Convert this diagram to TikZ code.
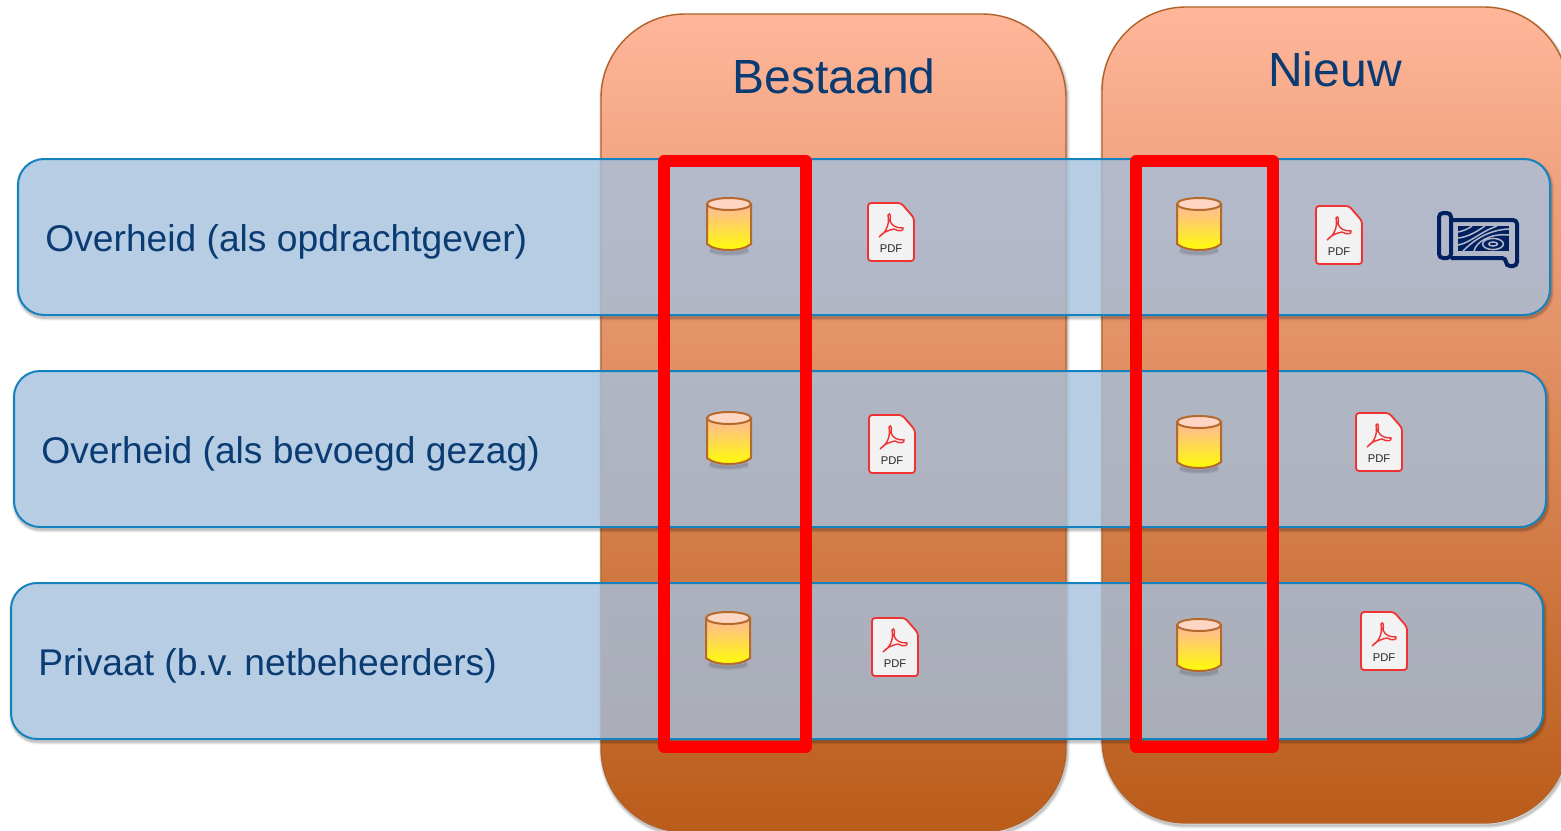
\documentclass[tikz,border=0pt]{standalone}
\usepackage{fontspec}
\setmainfont{Liberation Sans}
\usetikzlibrary{positioning,calc}
\definecolor{navytext}{RGB}{10,60,115}
\definecolor{bandline}{RGB}{20,130,190}
\definecolor{bandfill}{RGB}{165,192,221}
\definecolor{columntop}{RGB}{255,182,154}
\definecolor{columnbottom}{RGB}{186,92,26}
\definecolor{columnline}{RGB}{178,98,40}
\definecolor{cylline}{RGB}{180,105,45}
\definecolor{cyltop}{RGB}{255,214,196}
\definecolor{mapblue}{RGB}{0,32,96}
\definecolor{mapgrain}{RGB}{178,184,200}
\definecolor{pdfred}{RGB}{240,50,50}
\tikzset{
  eoclip/.code={\pgfseteorule},
  column/.style={draw=columnline,line width=.7pt,rounded corners=42pt,
    top color=columntop,bottom color=columnbottom},
  band/.style={draw=bandline,line width=1pt,rounded corners=13pt,
    fill=bandfill,fill opacity=.8},
  redbox/.style={draw=red,line width=5.7pt,line join=round},
  headtext/.style={text=navytext,font=\fontsize{24}{28}\selectfont,anchor=base},
  rowtext/.style={text=navytext,font=\fontsize{18.6}{22}\selectfont,anchor=base west,inner sep=0pt},
  grain/.style={mapgrain,line width=.75pt},
  cyl/.pic={
    \foreach \w/\o in {3.4/.04,2.4/.06,1.4/.08}
      \draw[black,opacity=\o,line width=\w pt] (-19,26) .. controls (-10,30) and (10,30) .. (19,26);
    \path[top color=columntop,bottom color=yellow,draw=cylline,line width=1pt]
      (-22,-20) -- (-22,20) .. controls (-13,28) and (13,28) .. (22,20) -- (22,-20) -- cycle;
    \draw[fill=cyltop,draw=cylline,line width=1pt] (0,-20) ellipse [x radius=11pt,y radius=3pt];
  },
  pdficon/.pic={
    \draw[fill=white!95!black,draw=pdfred,line width=.9pt,rounded corners=1.5pt]
      (-23,-29) -- (10,-29) -- (23,-14) -- (23,29) -- (-23,29) -- cycle;
    \draw[pdfred,line width=.7pt] (-12,5) .. controls (-6,1) and (-1,-6) .. (-3,-17)
      .. controls (-1,-20) and (0,-16) .. (-1,-11) .. controls (1,-6) and (5,-4) .. (12,-4)
      .. controls (13,-1) and (8,0) .. (3,-3) .. controls (-2,-2) and (-8,0) .. (-12,5) -- cycle;
    \node[text=black!85,font=\fontsize{5.6}{7}\selectfont] at (0,17) {PDF};
  },
}
% Soft edge outside a rounded box: radius, two corners
\newcommand{\softedge}[3]{
  \begin{scope}
  \clip[eoclip,rounded corners=#1] (-200,-200) rectangle (1800,1000) (#2) rectangle (#3);
  \foreach \w/\o in {3.2/.05,2.2/.08,1.2/.12}
    \draw[black,opacity=\o,line width=\w pt,rounded corners=#1] ($(#2)+(1,2.5)$) rectangle ($(#3)+(1,2.5)$);
  \end{scope}
}
\begin{document}
\frenchspacing
\begin{tikzpicture}[x=.5pt,y=-.5pt]
\useasboundingbox (0,0) rectangle (1561,830);
\clip (0,0) rectangle (1561,830);

% Columns
\softedge{42pt}{601,14}{1066,832}
\softedge{42pt}{1102,7}{1568,823}
\path[column] (601,14) rectangle (1066,832);
\path[column] (1102,7) rectangle (1568,823);
\node[headtext] (bestaand) at (834,93) {Bestaand};
\node[headtext] (nieuw) at (1335,86) {Nieuw};

% Rows
\softedge{13pt}{18,159}{1550,315}
\softedge{13pt}{14,371}{1546,527}
\softedge{13pt}{11,583}{1543,739}
\path[band] (18,159) rectangle (1550,315);
\path[band] (14,371) rectangle (1546,527);
\path[band] (11,583) rectangle (1543,739);
\node[rowtext] (opdrachtgever) at (45,251) {Overheid (als opdrachtgever)};
\node[rowtext] (bevoegd) at (41,463) {Overheid (als bevoegd gezag)};
\node[rowtext] (privaat) at (38,675) {Privaat (b.v. netbeheerders)};

% Databases
\pic at (729,224) {cyl};
\pic at (729,438) {cyl};
\pic at (728,638) {cyl};
\pic at (1199,224) {cyl};
\pic at (1199,442) {cyl};
\pic at (1199,645) {cyl};

% PDF files
\pic at (891,232) {pdficon};
\pic at (892,444) {pdficon};
\pic at (895,647) {pdficon};
\pic at (1339,235) {pdficon};
\pic at (1379,442) {pdficon};
\pic at (1384,641) {pdficon};

% Red frames
\path[redbox] (664,161) rectangle (806,747);
\path[redbox] (1136,161) rectangle (1273,747);

% Map roll
\draw[mapblue,line width=2pt,rounded corners=2pt] (1439,213) rectangle (1451,258);
\draw[mapblue,line width=2pt,rounded corners=2pt] (1451,220) -- (1517,220) -- (1517,266) -- (1506,266) -- (1506,258) -- (1451,258);
\fill[mapblue] (1458,226) rectangle (1509,251);
\begin{scope}
\clip (1458,226) rectangle (1509,251);
\draw[grain] (1493,244) ellipse [x radius=2.2pt,y radius=1pt];
\draw[grain] (1493,244) ellipse [x radius=5.2pt,y radius=2.8pt];
\draw[grain] (1458,232) .. controls (1463,231) and (1468,229) .. (1472,226);
\draw[grain] (1458,238) .. controls (1468,237) and (1476,232) .. (1485,226);
\draw[grain] (1458,245) .. controls (1470,243) and (1480,232) .. (1497,226);
\draw[grain] (1463,251) .. controls (1474,240) and (1488,230) .. (1509,229);
\draw[grain] (1474,251) .. controls (1476,242) and (1490,233) .. (1509,235);
\end{scope}
\end{tikzpicture}
\end{document}
